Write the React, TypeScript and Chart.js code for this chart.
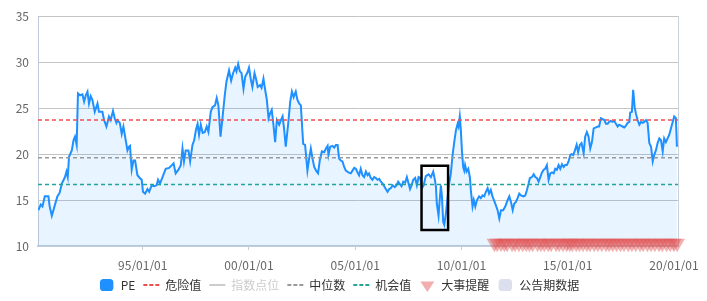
import React, { useEffect, useRef } from 'react';
import { Chart, registerables } from 'chart.js';

Chart.register(...registerables);

// ---- data ----
const dates = [
  1990.09, 1990.20, 1990.28, 1990.39, 1990.56, 1990.62, 1990.72, 1990.87, 1990.98, 1991.09,
  1991.19, 1991.34, 1991.41, 1991.47, 1991.53, 1991.66, 1991.74, 1991.81, 1991.89, 1991.95,
  1992.05, 1992.16, 1992.24, 1992.32, 1992.40, 1992.47, 1992.55, 1992.63, 1992.74, 1992.87,
  1992.94, 1993.10, 1993.18, 1993.29, 1993.41, 1993.49, 1993.60, 1993.68, 1993.76, 1993.81,
  1993.92, 1994.01, 1994.09, 1994.17, 1994.28, 1994.35, 1994.40, 1994.48, 1994.56, 1994.64,
  1994.75, 1994.86, 1994.95, 1995.01, 1995.11, 1995.22, 1995.30, 1995.42, 1995.53, 1995.65,
  1995.72, 1995.81, 1995.93, 1996.08, 1996.24, 1996.37, 1996.45, 1996.55, 1996.68, 1996.79,
  1996.87, 1996.94, 1997.02, 1997.15, 1997.23, 1997.34, 1997.42, 1997.50, 1997.58, 1997.65,
  1997.73, 1997.82, 1997.92, 1998.01, 1998.09, 1998.20, 1998.28, 1998.40, 1998.48, 1998.56,
  1998.66, 1998.75, 1998.86, 1998.94, 1999.06, 1999.16, 1999.25, 1999.35, 1999.41, 1999.49,
  1999.57, 1999.65, 1999.74, 1999.82, 1999.93, 2000.00, 2000.08, 2000.16, 2000.26, 2000.33,
  2000.41, 2000.52, 2000.59, 2000.68, 2000.76, 2000.84, 2000.92, 2000.99, 2001.07, 2001.15,
  2001.23, 2001.31, 2001.42, 2001.50, 2001.58, 2001.65, 2001.73, 2001.84, 2001.94, 2002.02,
  2002.10, 2002.20, 2002.28, 2002.36, 2002.44, 2002.55, 2002.64, 2002.75, 2002.83, 2002.91,
  2002.99, 2003.07, 2003.18, 2003.25, 2003.33, 2003.43, 2003.54, 2003.62, 2003.70, 2003.74,
  2003.82, 2003.93, 2004.01, 2004.09, 2004.17, 2004.24, 2004.32, 2004.40, 2004.48, 2004.56,
  2004.68, 2004.79, 2004.87, 2004.95, 2005.03, 2005.11, 2005.18, 2005.26, 2005.34, 2005.42,
  2005.50, 2005.58, 2005.65, 2005.73, 2005.81, 2005.89, 2005.97, 2006.05, 2006.13, 2006.21,
  2006.29, 2006.41, 2006.52, 2006.60, 2006.68, 2006.76, 2006.86, 2006.94, 2007.02, 2007.11,
  2007.18, 2007.26, 2007.35, 2007.43, 2007.51, 2007.58, 2007.65, 2007.73, 2007.82, 2007.90,
  2007.98, 2008.06, 2008.14, 2008.22, 2008.32, 2008.45, 2008.56, 2008.67, 2008.75, 2008.80,
  2008.84, 2008.92, 2008.98, 2009.03, 2009.08, 2009.14, 2009.19, 2009.27, 2009.35, 2009.42,
  2009.50, 2009.58, 2009.66, 2009.74, 2009.82, 2009.86, 2009.92, 2009.97, 2010.02, 2010.08,
  2010.13, 2010.17, 2010.24, 2010.32, 2010.40, 2010.44, 2010.52, 2010.58, 2010.65, 2010.73,
  2010.83, 2010.91, 2010.99, 2011.07, 2011.15, 2011.23, 2011.30, 2011.38, 2011.46, 2011.59,
  2011.70, 2011.78, 2011.86, 2011.96, 2012.06, 2012.17, 2012.25, 2012.33, 2012.41, 2012.48,
  2012.56, 2012.64, 2012.72, 2012.80, 2012.91, 2013.00, 2013.08, 2013.16, 2013.22, 2013.32,
  2013.40, 2013.47, 2013.55, 2013.63, 2013.71, 2013.79, 2013.87, 2013.94, 2014.02, 2014.10,
  2014.18, 2014.26, 2014.34, 2014.41, 2014.49, 2014.57, 2014.65, 2014.73, 2014.81, 2014.88,
  2014.96, 2015.04, 2015.12, 2015.18, 2015.26, 2015.34, 2015.42, 2015.49, 2015.57, 2015.65,
  2015.75, 2015.82, 2015.90, 2015.98, 2016.06, 2016.14, 2016.22, 2016.33, 2016.41, 2016.48,
  2016.56, 2016.64, 2016.72, 2016.80, 2016.88, 2016.95, 2017.03, 2017.11, 2017.19, 2017.27,
  2017.35, 2017.42, 2017.50, 2017.58, 2017.66, 2017.74, 2017.82, 2017.90, 2017.94, 2018.02,
  2018.08, 2018.15, 2018.21, 2018.29, 2018.37, 2018.45, 2018.53, 2018.60, 2018.68, 2018.76,
  2018.84, 2018.92, 2019.00, 2019.07, 2019.15, 2019.23, 2019.31, 2019.39, 2019.47, 2019.54,
  2019.62, 2019.70, 2019.78, 2019.86, 2019.94, 2020.01, 2020.09, 2020.14,
];

const pe = [
  13.9, 14.5, 14.3, 15.4, 15.4, 14.3, 13.3, 14.5, 15.4, 15.8,
  16.8, 17.5, 18.1, 17.5, 19.7, 20.4, 21.5, 21.9, 21.0, 26.6,
  26.4, 26.5, 25.7, 26.4, 26.8, 25.5, 26.3, 25.9, 24.6, 25.5,
  24.6, 24.6, 23.7, 23.0, 24.1, 23.7, 24.7, 23.9, 23.4, 23.7,
  23.4, 22.2, 23.0, 21.9, 20.4, 20.8, 20.9, 18.3, 19.3, 19.3,
  17.7, 17.4, 17.2, 15.9, 15.7, 16.2, 15.9, 16.6, 16.5, 16.6,
  17.2, 16.8, 17.5, 18.4, 18.5, 18.8, 19.0, 17.9, 18.3, 18.8,
  20.6, 19.2, 20.4, 20.4, 19.2, 21.0, 21.5, 22.6, 23.3, 22.1,
  23.2, 22.3, 22.4, 23.0, 22.4, 24.6, 25.1, 25.3, 26.1, 25.3,
  21.9, 23.9, 26.4, 27.9, 29.1, 28.0, 28.8, 29.4, 29.0, 29.8,
  29.0, 28.8, 27.1, 28.4, 28.9, 29.4, 28.2, 27.3, 28.8, 28.2,
  27.3, 27.5, 27.2, 28.2, 27.0, 25.9, 23.9, 24.4, 24.8, 23.2,
  21.3, 23.7, 23.2, 23.7, 24.1, 22.8, 20.8, 23.2, 25.7, 26.8,
  26.2, 26.8, 25.9, 25.5, 25.3, 21.1, 21.0, 18.2, 19.5, 20.6,
  19.5, 18.6, 18.1, 17.9, 19.3, 20.3, 20.2, 20.6, 20.9, 19.9,
  20.8, 20.9, 20.7, 21.0, 21.0, 19.5, 19.3, 19.2, 18.6, 18.2,
  18.0, 17.9, 18.2, 18.5, 18.4, 18.0, 17.7, 18.4, 17.7, 17.5,
  18.1, 17.7, 17.9, 17.4, 17.2, 17.5, 17.4, 17.2, 17.3, 17.0,
  16.8, 16.3, 15.9, 16.2, 16.3, 16.6, 16.4, 16.6, 17.0, 16.7,
  16.5, 17.0, 16.9, 17.5, 16.8, 16.2, 16.6, 17.2, 17.4, 16.6,
  17.5, 17.4, 16.3, 16.6, 17.6, 17.8, 17.5, 18.1, 17.2, 16.4,
  14.6, 13.3, 15.2, 16.6, 15.4, 12.6, 12.3, 13.6, 15.4, 16.8,
  17.9, 19.9, 21.3, 22.6, 23.3, 23.0, 24.1, 22.6, 20.4, 18.6,
  18.2, 18.8, 18.1, 18.4, 17.4, 16.1, 14.3, 15.0, 14.3, 15.0,
  15.4, 15.2, 15.5, 15.4, 15.9, 16.3, 15.7, 16.1, 15.4, 14.6,
  13.9, 13.0, 13.9, 13.9, 14.3, 15.0, 15.4, 14.8, 13.9, 14.6,
  14.8, 15.2, 15.7, 15.5, 15.4, 15.5, 16.1, 16.8, 17.4, 17.5,
  17.8, 17.5, 17.4, 17.0, 17.5, 18.0, 18.3, 18.4, 18.8, 17.2,
  17.9, 18.0, 17.9, 18.4, 18.3, 18.8, 18.4, 18.9, 18.6, 18.8,
  18.8, 19.2, 19.9, 20.0, 19.9, 20.4, 21.0, 20.2, 21.0, 21.2,
  20.1, 21.9, 22.4, 21.9, 20.6, 21.3, 22.8, 22.9, 23.0, 23.0,
  23.9, 23.8, 23.7, 23.3, 23.3, 23.5, 23.6, 23.5, 23.6, 23.3,
  23.0, 23.2, 23.1, 23.0, 22.9, 23.1, 23.4, 23.5, 24.5, 24.6,
  27.0, 25.1, 24.4, 23.7, 23.2, 23.5, 23.4, 23.5, 23.7, 23.4,
  21.2, 20.8, 19.2, 19.9, 20.4, 21.2, 21.7, 21.5, 20.3, 21.7,
  21.3, 21.7, 22.1, 22.8, 23.5, 24.1, 23.9, 20.8,
];

// 大事提醒 event dates
const eventDates = [
  2011.55, 2011.68, 2011.86, 2012.02, 2012.15, 2012.38, 2012.52, 2012.70, 2012.88, 2013.05,
  2013.20, 2013.35, 2013.58, 2013.74, 2013.90, 2014.08, 2014.22, 2014.45, 2014.60, 2014.78,
  2014.95, 2015.10, 2015.22, 2015.40, 2015.55, 2015.72, 2015.90, 2016.05, 2016.25, 2016.42,
  2016.60, 2016.80, 2016.95, 2017.12, 2017.30, 2017.48, 2017.65, 2017.85, 2018.02, 2018.20,
  2018.40, 2018.55, 2018.75, 2018.92, 2019.10, 2019.30, 2019.45, 2019.65, 2019.82, 2020.00,
  2020.15,
];
const eventLevel = 10.3;

const dangerValue = 23.7;
const medianValue = 19.6;
const chanceValue = 16.7;

const xRange = [1990.07, 2020.19];
const yRange = [10, 35];
const tickYears = [1995, 2000, 2005, 2010, 2015, 2020];
const tickLabels = ['95/01/01', '00/01/01', '05/01/01', '10/01/01', '15/01/01', '20/01/01'];

const boxYears = [2008.12, 2009.37];
const boxValues = [11.74, 18.73];

const legendNames = ['PE', '危险值', '指数点位', '中位数', '机会值', '大事提醒', '公告期数据'];

// ---- styles ----
const BLUE = 'rgb(30,144,255)';
const RED = '#ef4f4f';
const GREY = '#999999';
const TEAL = '#22a598';
const FONT = '"Noto Sans CJK SC", "Noto Sans", sans-serif';

const boxPlugin = {
  id: 'highlightBox',
  afterDatasetsDraw(chart: any) {
    const { ctx, scales } = chart;
    const x = scales.x;
    const y = scales.y;
    const l = x.getPixelForValue(boxYears[0]);
    const r = x.getPixelForValue(boxYears[1]);
    const t = y.getPixelForValue(boxValues[1]);
    const b = y.getPixelForValue(boxValues[0]);
    ctx.save();
    ctx.strokeStyle = '#000';
    ctx.lineWidth = 2.5;
    ctx.strokeRect(l, t, r - l, b - t);
    ctx.restore();
  },
};

export default function App() {
  const ref = useRef<HTMLCanvasElement | null>(null);

  useEffect(() => {
    if (!ref.current) return;
    const hLine = (v: number) => [
      { x: xRange[0], y: v },
      { x: xRange[1], y: v },
    ];
    const legendItems = [
      { text: legendNames[0], pointStyle: 'rectRounded', fillStyle: BLUE, strokeStyle: BLUE, lineWidth: 0, fontColor: '#333', hidden: false },
      { text: legendNames[1], pointStyle: 'line', fillStyle: RED, strokeStyle: RED, lineWidth: 2, lineDash: [4, 2], fontColor: '#333', hidden: false },
      { text: legendNames[2], pointStyle: 'line', fillStyle: '#ccc', strokeStyle: '#ccc', lineWidth: 2, fontColor: '#ccc', hidden: false },
      { text: legendNames[3], pointStyle: 'line', fillStyle: GREY, strokeStyle: GREY, lineWidth: 2, lineDash: [4, 2], fontColor: '#333', hidden: false },
      { text: legendNames[4], pointStyle: 'line', fillStyle: TEAL, strokeStyle: TEAL, lineWidth: 2, lineDash: [4, 2], fontColor: '#333', hidden: false },
      { text: legendNames[5], pointStyle: 'triangle', rotation: 180, fillStyle: 'rgba(232,120,120,0.6)', strokeStyle: 'rgba(0,0,0,0)', lineWidth: 0, fontColor: '#333', hidden: false },
      { text: legendNames[6], pointStyle: 'rectRounded', fillStyle: '#dcdfed', strokeStyle: '#dcdfed', lineWidth: 0, fontColor: '#333', hidden: false },
    ];

    Chart.defaults.font.family = FONT;

    const chart = new Chart(ref.current, {
      type: 'line',
      data: {
        datasets: [
          {
            label: 'PE',
            data: dates.map((d, i) => ({ x: d, y: pe[i] })),
            borderColor: BLUE,
            backgroundColor: 'rgba(30,144,255,0.1)',
            borderWidth: 2,
            pointRadius: 0,
            fill: 'start',
            tension: 0,
            order: 5,
          },
          {
            label: '危险值',
            data: hLine(dangerValue),
            borderColor: RED,
            borderWidth: 1.5,
            borderDash: [4, 3],
            pointRadius: 0,
            fill: false,
            order: 3,
          },
          {
            label: '中位数',
            data: hLine(medianValue),
            borderColor: GREY,
            borderWidth: 1.5,
            borderDash: [4, 3],
            pointRadius: 0,
            fill: false,
            order: 3,
          },
          {
            label: '机会值',
            data: hLine(chanceValue),
            borderColor: TEAL,
            borderWidth: 1.5,
            borderDash: [4, 3],
            pointRadius: 0,
            fill: false,
            order: 3,
          },
          {
            type: 'scatter',
            label: '大事提醒',
            data: eventDates.map((d) => ({ x: d, y: eventLevel })),
            pointStyle: 'triangle',
            rotation: 180,
            pointRadius: 9,
            pointHoverRadius: 9,
            backgroundColor: 'rgba(226,80,80,0.45)',
            borderWidth: 0,
            clip: false,
            order: 0,
          } as any,
        ],
      },
      options: {
        animation: false,
        responsive: false,
        maintainAspectRatio: false,
        layout: { padding: { left: 0, right: 29, top: 16, bottom: 0 } },
        plugins: {
          tooltip: { enabled: false },
          legend: {
            position: 'bottom',
            onClick: () => {},
            labels: {
              usePointStyle: true,
              pointStyleWidth: 16,
              boxHeight: 10,
              padding: 8,
              color: '#333',
              font: { size: 12, family: FONT },
              generateLabels: () => legendItems as any,
            },
          },
        },
        scales: {
          x: {
            type: 'linear',
            min: xRange[0],
            max: xRange[1],
            afterBuildTicks: (s: any) => {
              s.ticks = tickYears.map((v) => ({ value: v }));
            },
            afterFit: (s: any) => {
              s.height = 25;
            },
            grid: { drawOnChartArea: false, drawTicks: true, tickLength: 4, color: '#c5cdd9' },
            border: { color: '#c5cdd9', width: 2 },
            ticks: {
              autoSkip: false,
              maxRotation: 0,
              padding: 8,
              color: '#666',
              font: { size: 12, family: FONT },
              callback: (_v: any, i: number) => tickLabels[i],
            },
          },
          y: {
            min: yRange[0],
            max: yRange[1],
            afterFit: (s: any) => {
              s.width = 38;
            },
            grid: {
              drawTicks: false,
              color: (c: any) => (c.tick && c.tick.value === yRange[0] ? 'rgba(0,0,0,0)' : '#c4c4c4'),
            },
            border: { color: '#bccadb', width: 1 },
            ticks: { stepSize: 5, padding: 9, color: '#666', font: { size: 12, family: FONT } },
          },
          y2: {
            position: 'right',
            min: 0,
            max: 1,
            afterFit: (s: any) => {
              s.width = 0;
            },
            grid: { drawOnChartArea: false, drawTicks: false },
            border: { color: '#c8d2df', width: 1 },
            ticks: { display: false },
          },
        },
      } as any,
      plugins: [boxPlugin],
    });
    return () => chart.destroy();
  }, []);

  return (
    <div style={{ position: 'absolute', left: 0, top: 0, width: 707, height: 301, overflow: 'hidden', background: '#fff' }}>
      <canvas ref={ref} width={707} height={301} style={{ display: 'block', width: 707, height: 301 }} />
    </div>
  );
}
